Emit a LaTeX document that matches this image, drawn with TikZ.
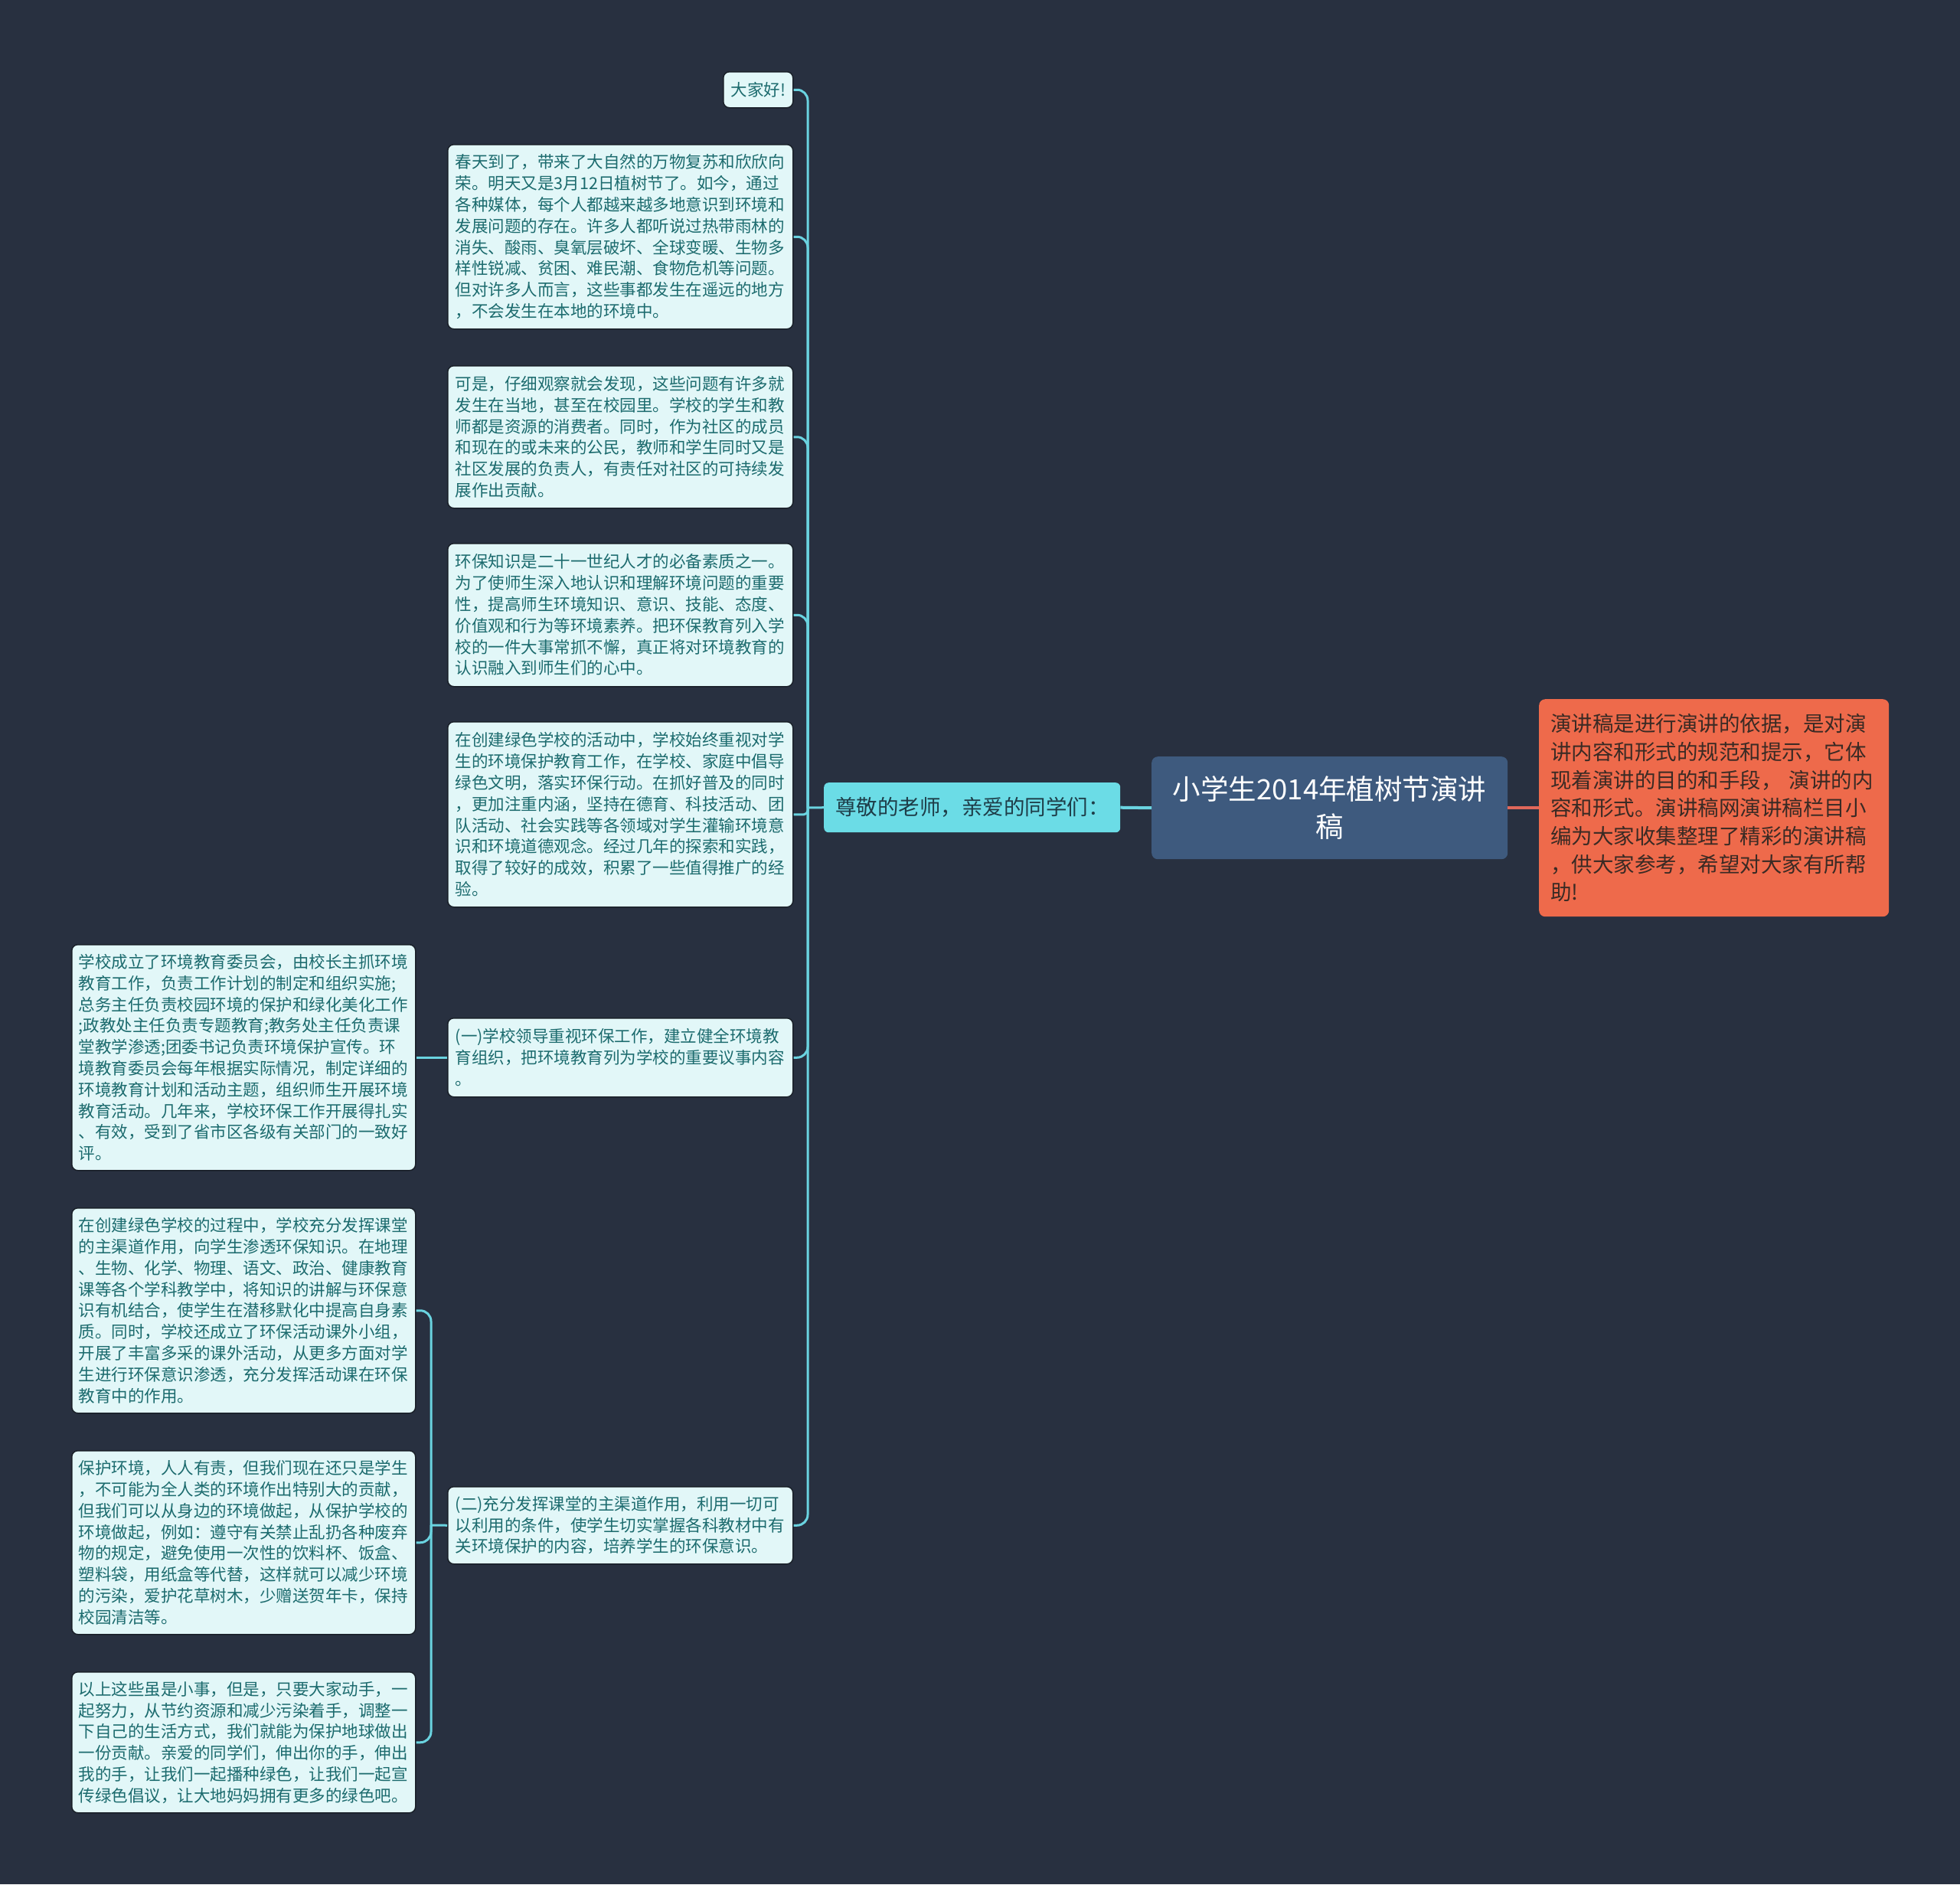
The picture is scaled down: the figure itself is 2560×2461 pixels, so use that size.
\documentclass[tikz,border=0pt]{standalone}
\usepackage{fontspec}
\setmainfont{Noto Sans CJK SC}
\definecolor{bg}{HTML}{283040}
\definecolor{rootfill}{HTML}{3E5A7E}
\definecolor{descfill}{HTML}{EE6A4B}
\definecolor{desctext}{HTML}{3A2A24}
\definecolor{lonefill}{HTML}{6BDCE6}
\definecolor{lonetext}{HTML}{1E3D48}
\definecolor{leaffill}{HTML}{E2F7F8}
\definecolor{leaftext}{HTML}{1C6B6E}
\definecolor{leafborder}{HTML}{1A2029}
\definecolor{connc}{HTML}{6AD3E0}
\definecolor{redc}{HTML}{E0675A}
\begin{document}
\begin{tikzpicture}[x=1pt,y=-1pt,
  leaf/.style={draw=leafborder, line width=1.5pt, fill=leaffill, rounded corners=8pt,
    text=leaftext, font=\fontsize{21.5}{27.8}\selectfont, anchor=north west},
  leafbox/.style={leaf, text width=431pt, inner xsep=10pt, inner ysep=0pt, align=left},
  conn/.style={draw=connc, line width=3pt},
  redconn/.style={draw=redc, line width=3.5pt}]
\fill[bg] (0,0) rectangle (2560,2461);
\useasboundingbox (0,0) rectangle (2560,2461);

% root
\node[fill=rootfill, rounded corners=8pt, text=white, anchor=north west,
  minimum width=465pt, minimum height=134pt, inner sep=0pt, align=center,
  font=\fontsize{36.5}{49}\selectfont] (root) at (1504,988) {小学生2014年植树节演讲\\稿};

% description
\node[fill=descfill, rounded corners=8pt, text=desctext, anchor=north west,
  text width=427pt, inner xsep=15pt, inner ysep=0pt, minimum height=284pt, align=left,
  font=\fontsize{27.5}{36.7}\selectfont] (desc) at (2010,913)
  {演讲稿是进行演讲的依据，是对演\\讲内容和形式的规范和提示，它体\\现着演讲的目的和手段，\ 演讲的内\\容和形式。演讲稿网演讲稿栏目小\\编为大家收集整理了精彩的演讲稿\\，供大家参考，希望对大家有所帮\\助!};

% level 1
\node[fill=lonefill, rounded corners=6pt, text=lonetext, anchor=north west,
  text width=357pt, inner xsep=15pt, align=left,
  minimum height=65pt, inner ysep=0pt,
  font=\fontsize{27.5}{32}\selectfont] (lone) at (1076,1022) {尊敬的老师，亲爱的同学们：};

% level 2
\node[leaf, minimum width=91pt, minimum height=47pt, inner sep=0pt] (hi) at (944,93) {大家好!};

\node[leafbox, minimum height=241pt] (b1) at (584,188)
  {春天到了，带来了大自然的万物复苏和欣欣向\\荣。明天又是3月12日植树节了。如今，通过\\各种媒体，每个人都越来越多地意识到环境和\\发展问题的存在。许多人都听说过热带雨林的\\消失、酸雨、臭氧层破坏、全球变暖、生物多\\样性锐减、贫困、难民潮、食物危机等问题。\\但对许多人而言，这些事都发生在遥远的地方\\，不会发生在本地的环境中。};

\node[leafbox, minimum height=186pt] (b2) at (584,477)
  {可是，仔细观察就会发现，这些问题有许多就\\发生在当地，甚至在校园里。学校的学生和教\\师都是资源的消费者。同时，作为社区的成员\\和现在的或未来的公民，教师和学生同时又是\\社区发展的负责人，有责任对社区的可持续发\\展作出贡献。};

\node[leafbox, minimum height=187pt] (b3) at (584,709)
  {环保知识是二十一世纪人才的必备素质之一。\\为了使师生深入地认识和理解环境问题的重要\\性，提高师生环境知识、意识、技能、态度、\\价值观和行为等环境素养。把环保教育列入学\\校的一件大事常抓不懈，真正将对环境教育的\\认识融入到师生们的心中。};

\node[leafbox, minimum height=242pt] (b4) at (584,942)
  {在创建绿色学校的活动中，学校始终重视对学\\生的环境保护教育工作，在学校、家庭中倡导\\绿色文明，落实环保行动。在抓好普及的同时\\，更加注重内涵，坚持在德育、科技活动、团\\队活动、社会实践等各领域对学生灌输环境意\\识和环境道德观念。经过几年的探索和实践，\\取得了较好的成效，积累了一些值得推广的经\\验。};

\node[leafbox, minimum height=103pt] (c1) at (584,1329)
  {(一)学校领导重视环保工作，建立健全环境教\\育组织，把环境教育列为学校的重要议事内容\\。};

\node[leafbox, minimum height=101pt] (c2) at (584,1941)
  {(二)充分发挥课堂的主渠道作用，利用一切可\\以利用的条件，使学生切实掌握各科教材中有\\关环境保护的内容，培养学生的环保意识。};

% level 3
\node[leafbox, inner xsep=9pt, minimum height=295pt] (d1) at (93,1233)
  {学校成立了环境教育委员会，由校长主抓环境\\教育工作，负责工作计划的制定和组织实施;\\总务主任负责校园环境的保护和绿化美化工作\\;政教处主任负责专题教育;教务处主任负责课\\堂教学渗透;团委书记负责环境保护宣传。环\\境教育委员会每年根据实际情况，制定详细的\\环境教育计划和活动主题，组织师生开展环境\\教育活动。几年来，学校环保工作开展得扎实\\、有效，受到了省市区各级有关部门的一致好\\评。};

\node[leafbox, inner xsep=9pt, minimum height=268pt] (d2) at (93,1577)
  {在创建绿色学校的过程中，学校充分发挥课堂\\的主渠道作用，向学生渗透环保知识。在地理\\、生物、化学、物理、语文、政治、健康教育\\课等各个学科教学中，将知识的讲解与环保意\\识有机结合，使学生在潜移默化中提高自身素\\质。同时，学校还成立了环保活动课外小组，\\开展了丰富多采的课外活动，从更多方面对学\\生进行环保意识渗透，充分发挥活动课在环保\\教育中的作用。};

\node[leafbox, inner xsep=9pt, minimum height=240pt] (d3) at (93,1894)
  {保护环境，人人有责，但我们现在还只是学生\\，不可能为全人类的环境作出特别大的贡献，\\但我们可以从身边的环境做起，从保护学校的\\环境做起，例如：遵守有关禁止乱扔各种废弃\\物的规定，避免使用一次性的饮料杯、饭盒、\\塑料袋，用纸盒等代替，这样就可以减少环境\\的污染，爱护花草树木，少赠送贺年卡，保持\\校园清洁等。};

\node[leafbox, inner xsep=9pt, minimum height=184pt] (d4) at (93,2183)
  {以上这些虽是小事，但是，只要大家动手，一\\起努力，从节约资源和减少污染着手，调整一\\下自己的生活方式，我们就能为保护地球做出\\一份贡献。亲爱的同学们，伸出你的手，伸出\\我的手，让我们一起播种绿色，让我们一起宣\\传绿色倡议，让大地妈妈拥有更多的绿色吧。};

% connectors
\draw[conn, line width=4pt] (root.west) -- (lone.east);
\draw[redconn] (root.east) -- (desc.west);

\coordinate (tA) at (1055,1055);
\draw[conn] (lone.west) -- (tA);
\draw[conn, rounded corners=14pt] (tA) |- (hi.east);
\draw[conn, rounded corners=14pt] (tA) |- (b1.east);
\draw[conn, rounded corners=14pt] (tA) |- (b2.east);
\draw[conn, rounded corners=14pt] (tA) |- (b3.east);
\draw[conn, rounded corners=5pt] (tA) |- (b4.east);
\draw[conn, rounded corners=14pt] (tA) |- (c1.east);
\draw[conn, rounded corners=14pt] (tA) |- (c2.east);

\draw[conn] (c1.west) -- (d1.east);
\coordinate (tB) at (563,1992);
\draw[conn] (c2.west) -- (tB);
\draw[conn, rounded corners=14pt] (tB) |- (d2.east);
\draw[conn, rounded corners=14pt] (tB) |- (d3.east);
\draw[conn, rounded corners=14pt] (tB) |- (d4.east);
\end{tikzpicture}
\end{document}
